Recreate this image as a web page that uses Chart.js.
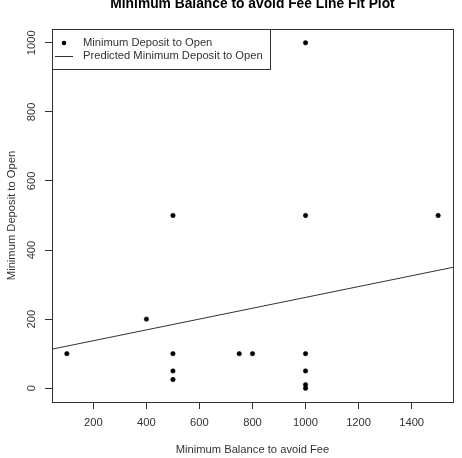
<!DOCTYPE html>
<html>
<head>
<meta charset="utf-8">
<script src="https://cdn.jsdelivr.net/npm/chart.js@4"></script>
<style>
    html, body { margin: 0; padding: 0; background: #fff; }
    #wrap { width: 462px; height: 458px; }
</style>
</head>
<body>
<div id="wrap"><canvas id="fitChart" width="462" height="458"></canvas></div>
<script>
// data
const minBalance = [100, 400, 500, 500, 500, 500, 750, 800, 1000, 1000, 1000, 1000, 1000, 1000, 1500];
const minDeposit = [100, 200, 500, 100, 50, 25, 100, 100, 1000, 500, 100, 50, 10, 0, 500];

// fitted line, read at the two edges of the plot
const fitX = [44, 1556];
const fitY = [113, 350];

const xTicks = [200, 400, 600, 800, 1000, 1200, 1400];
const yTicks = [0, 200, 400, 600, 800, 1000];

const titleText = 'Minimum Balance to avoid Fee Line Fit Plot';
const xTitle = 'Minimum Balance to avoid Fee';
const yTitle = 'Minimum Deposit to Open';

const ink = '#333';
const font = '11.2px "Liberation Sans", Arial, sans-serif';

// box, labels, titles and legend like base R graphics
const rPlot = {
    id: 'rPlot',
    afterDraw(chart) {
        const c = chart.ctx;
        const a = chart.chartArea;
        const xs = chart.scales.x;
        const ys = chart.scales.y;
        c.save();
        c.strokeStyle = ink;
        c.lineWidth = 1;
        c.strokeRect(a.left + 0.5, a.top + 0.5, a.right - a.left, a.bottom - a.top);

        c.fillStyle = ink;
        c.font = font;
        c.textAlign = 'center';
        c.textBaseline = 'middle';
        xTicks.forEach(v => c.fillText(String(v), xs.getPixelForValue(v), 423));
        yTicks.forEach(v => {
            c.save();
            c.translate(32, ys.getPixelForValue(v));
            c.rotate(-Math.PI / 2);
            c.fillText(String(v), 0, 0);
            c.restore();
        });

        c.fillText(xTitle, (a.left + a.right) / 2, 450);
        c.save();
        c.translate(12, (a.top + a.bottom) / 2);
        c.rotate(-Math.PI / 2);
        c.fillText(yTitle, 0, 0);
        c.restore();

        c.fillStyle = '#000';
        c.font = 'bold 13.8px "Liberation Sans", Arial, sans-serif';
        c.textBaseline = 'alphabetic';
        c.fillText(titleText, (a.left + a.right) / 2, 8);

        // legend in the top left corner
        const ds = chart.data.datasets;
        c.strokeStyle = ink;
        c.strokeRect(a.left + 0.5, a.top + 0.5, 218, 40);
        c.fillStyle = '#000';
        c.beginPath();
        c.arc(a.left + 12, a.top + 14, 2.3, 0, Math.PI * 2);
        c.fill();
        c.beginPath();
        c.moveTo(a.left + 3, a.top + 27.5);
        c.lineTo(a.left + 21, a.top + 27.5);
        c.stroke();
        c.fillStyle = ink;
        c.font = font;
        c.textAlign = 'left';
        c.textBaseline = 'middle';
        c.fillText(ds[0].label, a.left + 31, a.top + 14);
        c.fillText(ds[1].label, a.left + 31, a.top + 27);
        c.restore();
    }
};

const ctx = document.getElementById('fitChart').getContext('2d');
const fitChart = new Chart(ctx, {
    type: 'scatter',
    data: {
        datasets: [{
            label: 'Minimum Deposit to Open',
            data: minBalance.map((x, i) => ({ x: x, y: minDeposit[i] })),
            backgroundColor: '#000',
            borderColor: '#000',
            borderWidth: 0.6,
            pointRadius: 2.2
        }, {
            label: 'Predicted Minimum Deposit to Open',
            type: 'line',
            data: fitX.map((x, i) => ({ x: x, y: fitY[i] })),
            borderColor: ink,
            borderWidth: 1,
            pointRadius: 0,
            fill: false
        }]
    },
    options: {
        responsive: false,
        animation: false,
        layout: { padding: { top: 29, right: 9, left: 0, bottom: 0 } },
        plugins: {
            legend: { display: false },
            tooltip: { enabled: false }
        },
        scales: {
            x: {
                type: 'linear',
                min: 44,
                max: 1556,
                afterBuildTicks: s => { s.ticks = xTicks.map(v => ({ value: v })); },
                afterFit: s => { s.height = 56; },
                border: { display: false },
                grid: { drawOnChartArea: false, drawTicks: true, tickLength: 7, color: ink },
                ticks: { display: false }
            },
            y: {
                type: 'linear',
                min: -40,
                max: 1040,
                afterBuildTicks: s => { s.ticks = yTicks.map(v => ({ value: v })); },
                afterFit: s => { s.width = 52; },
                border: { display: false },
                grid: { drawOnChartArea: false, drawTicks: true, tickLength: 7, color: ink },
                ticks: { display: false }
            }
        }
    },
    plugins: [rPlot]
});
</script>
</body>
</html>
